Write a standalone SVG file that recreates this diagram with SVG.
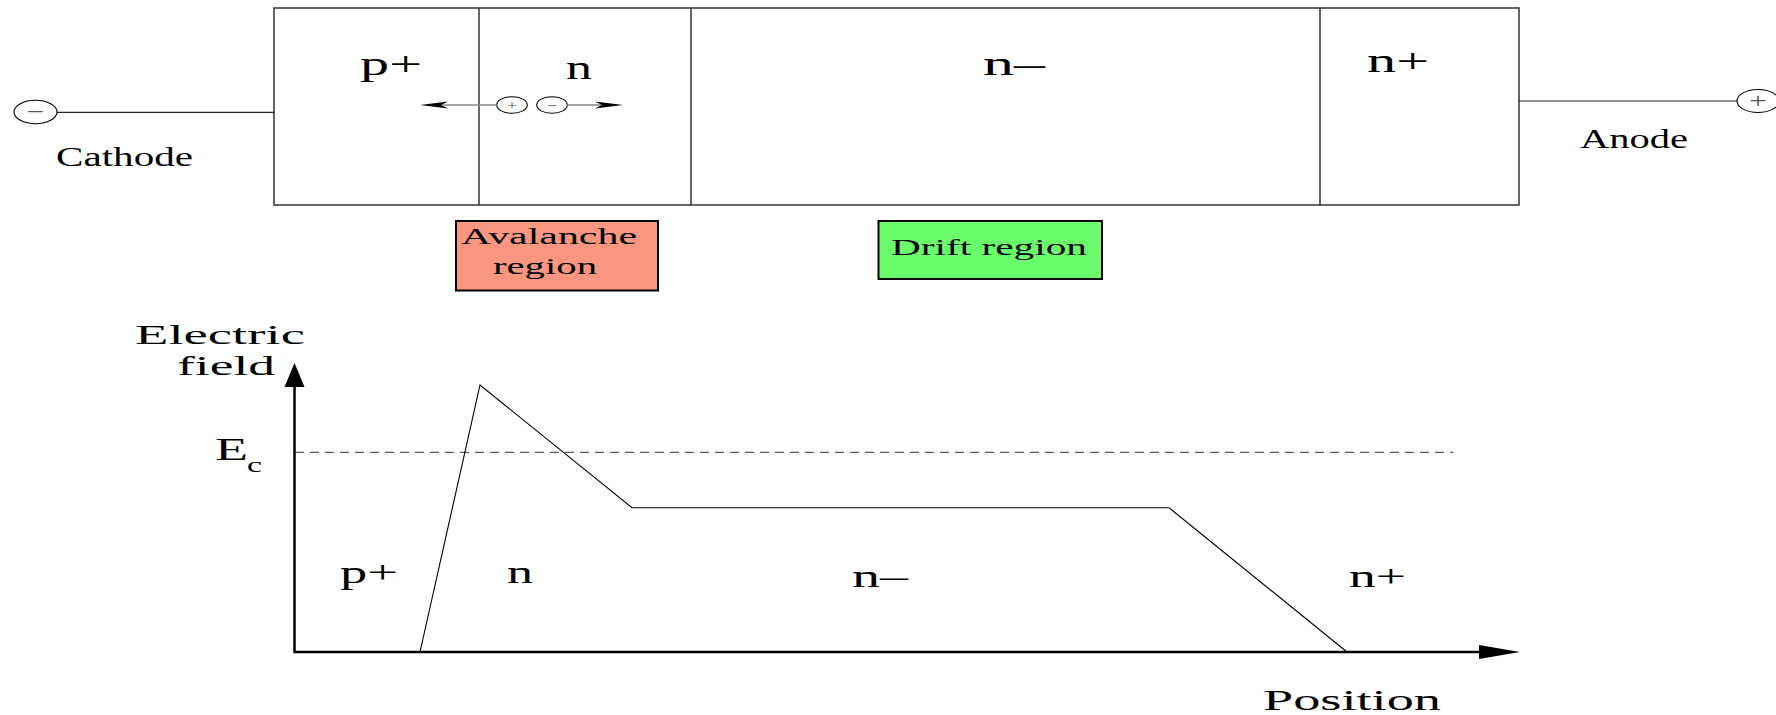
<svg xmlns="http://www.w3.org/2000/svg" width="1776" height="715" viewBox="0 0 1776 715">
<style>
text{font-family:"Liberation Serif","Times New Roman",serif;fill:#000}
.box{fill:none;stroke:#333;stroke-width:1.5}
.div{stroke:#333;stroke-width:1.5}
.wire{stroke:#222;stroke-width:1.2;fill:none}
.term{fill:#fff;stroke:#000;stroke-width:1.1}
.sym{fill:#555}
.garrow{stroke:#888;stroke-width:1.3}
.head{fill:#000}
.axis{stroke:#000;stroke-width:2.5;fill:none}
.curve{stroke:#000;stroke-width:1.1;fill:none}
.dash{stroke:#333;stroke-width:1;stroke-dasharray:9 6;fill:none}
</style>
<rect width="1776" height="715" fill="#fff"/>

<g id="device">
  <rect class="box" x="274" y="8" width="1245" height="197"/>
  <line class="div" x1="479" y1="8" x2="479" y2="205"/>
  <line class="div" x1="691" y1="8" x2="691" y2="205"/>
  <line class="div" x1="1320" y1="8" x2="1320" y2="205"/>
  <text x="360" y="74.5" font-size="34" textLength="62" lengthAdjust="spacingAndGlyphs">p+</text>
  <text x="566" y="78.5" font-size="34" textLength="26" lengthAdjust="spacingAndGlyphs">n</text>
  <text x="983" y="75" font-size="34" textLength="62" lengthAdjust="spacingAndGlyphs">n–</text>
  <text x="1367" y="71.5" font-size="34" textLength="62" lengthAdjust="spacingAndGlyphs">n+</text>
</g>

<g id="cathode">
  <ellipse class="term" cx="35.5" cy="112" rx="21.5" ry="11.7"/>
  <text class="sym" x="35.5" y="119" font-size="22" text-anchor="middle" textLength="18" lengthAdjust="spacingAndGlyphs">−</text>
  <text x="56" y="166" font-size="27" textLength="137" lengthAdjust="spacingAndGlyphs">Cathode</text>
</g>

<g id="anode">
  <ellipse class="term" cx="1758" cy="101" rx="21" ry="11.5"/>
  <text class="sym" x="1758" y="108" font-size="22" text-anchor="middle" textLength="18" lengthAdjust="spacingAndGlyphs">+</text>
  <text x="1580" y="148" font-size="27" textLength="108" lengthAdjust="spacingAndGlyphs">Anode</text>
</g>

<g id="hole">
  <ellipse class="term" cx="512" cy="105" rx="15.3" ry="8.3"/>
  <text class="sym" x="512" y="109.5" font-size="13" text-anchor="middle" textLength="10" lengthAdjust="spacingAndGlyphs">+</text>
</g>
<g id="electron">
  <ellipse class="term" cx="552" cy="105" rx="15.3" ry="8.3"/>
  <text class="sym" x="552" y="109.5" font-size="13" text-anchor="middle" textLength="10" lengthAdjust="spacingAndGlyphs">−</text>
</g>

<g id="avalanche-region">
  <rect x="456" y="221" width="202" height="69.5" fill="#F9967F" stroke="#000" stroke-width="2"/>
  <text x="461" y="243.5" font-size="23" textLength="176" lengthAdjust="spacingAndGlyphs">Avalanche</text>
  <text x="493" y="274" font-size="23" textLength="104" lengthAdjust="spacingAndGlyphs">region</text>
</g>

<g id="drift-region">
  <rect x="878.5" y="221" width="223.5" height="58" fill="#6BFC6B" stroke="#000" stroke-width="2"/>
  <text x="891" y="254.5" font-size="24" textLength="196" lengthAdjust="spacingAndGlyphs">Drift region</text>
</g>

<g id="graph">
  <text x="135" y="344" font-size="27" textLength="170" lengthAdjust="spacingAndGlyphs">Electric</text>
  <text x="177" y="375" font-size="27" textLength="98" lengthAdjust="spacingAndGlyphs">field</text>
  <text x="215" y="460" font-size="32" textLength="33" lengthAdjust="spacingAndGlyphs">E</text>
  <text x="247" y="472" font-size="20" textLength="15" lengthAdjust="spacingAndGlyphs">c</text>
  <line class="dash" x1="295" y1="452.3" x2="1453" y2="452.3"/>
  <polyline class="curve" points="420,652 480,385 632,507.7 1169,507.7 1347,652"/>
  <text x="340" y="583" font-size="32" textLength="58" lengthAdjust="spacingAndGlyphs">p+</text>
  <text x="507" y="583" font-size="32" textLength="26" lengthAdjust="spacingAndGlyphs">n</text>
  <text x="852" y="586.5" font-size="32" textLength="56" lengthAdjust="spacingAndGlyphs">n–</text>
  <text x="1349" y="586.5" font-size="32" textLength="57" lengthAdjust="spacingAndGlyphs">n+</text>
  <text x="1263" y="710" font-size="29" textLength="178" lengthAdjust="spacingAndGlyphs">Position</text>
</g>

<g id="connectors">
  <line class="wire" x1="57" y1="112.3" x2="274" y2="112.3"/>
  <line class="wire" x1="1519" y1="101" x2="1737" y2="101"/>
  <line class="garrow" x1="496.7" y1="105" x2="440" y2="105"/>
  <polygon class="head" points="420,105 448,101.5 441,105 448,108.5"/>
  <line class="garrow" x1="567.3" y1="105" x2="603" y2="105"/>
  <polygon class="head" points="623,105 595,101.5 602,105 595,108.5"/>
  <polyline class="axis" points="294.5,386 294.5,652 1482,652"/>
  <polygon class="head" points="294.5,363 284.5,387 304.5,387"/>
  <polygon class="head" points="1520,652 1479,645 1479,659"/>
</g>
</svg>
